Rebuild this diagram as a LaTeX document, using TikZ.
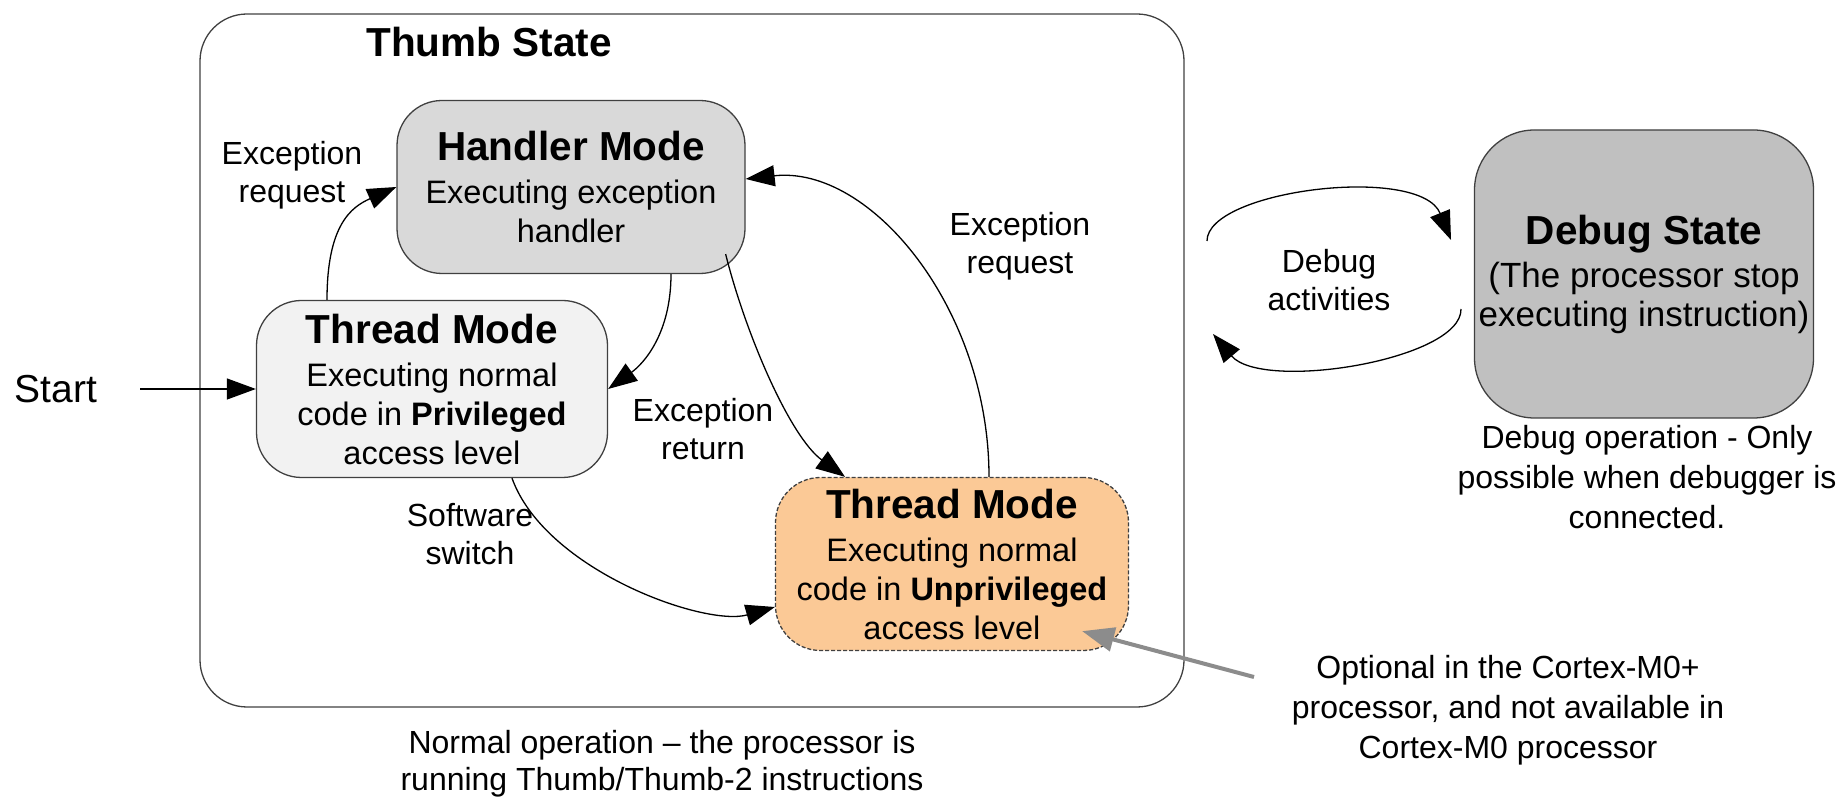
\documentclass[tikz,border=0pt]{standalone}
\usepackage{fontspec}
\setmainfont{Liberation Sans}
\usetikzlibrary{arrows.meta,calc}
\definecolor{linec}{HTML}{404040}
\definecolor{handlerfill}{HTML}{D9D9D9}
\definecolor{privfill}{HTML}{F2F2F2}
\definecolor{unprivfill}{HTML}{FBC996}
\definecolor{debugfill}{HTML}{C0C0C0}
\definecolor{optgray}{HTML}{8C8C8C}
\newcommand\hdfont{\fontsize{40.5}{45}\selectfont\bfseries}
\newcommand\bdfont{\fontsize{32.5}{39}\selectfont}
\newcommand\lbfont{\fontsize{32}{38}\selectfont}
\tikzset{
  modebox/.style={draw=linec, line width=1.3pt, rounded corners=45pt, align=center, font=\bdfont, inner sep=0pt},
  lbl/.style={align=center, font=\lbfont, inner sep=0pt},
  conn/.style={line width=1.3pt, -{Triangle[length=29pt,width=21pt]}},
}
\begin{document}
\begin{tikzpicture}[x=1pt,y=1pt]
\useasboundingbox (0,0) rectangle (1847,800);
% Thumb state container
\node[draw=linec, line width=1.3pt, rounded corners=47pt, minimum width=984pt, minimum height=693pt, inner sep=0pt] (thumb) at (692,439.5) {};
\node[font=\hdfont, inner sep=0pt] (thumbtitle) at (489,758) {Thumb State};
% modes
\node[modebox, fill=handlerfill, minimum width=348pt, minimum height=173pt] (handler) at (571,613)
  {{\hdfont Handler Mode}\\[4pt] Executing exception\\ handler};
\node[modebox, fill=privfill, minimum width=351pt, minimum height=177pt] (priv) at (432,411)
  {{\hdfont Thread Mode}\\[4pt] Executing normal\\ code in \textbf{Privileged}\\ access level};
\node[modebox, fill=unprivfill, dash pattern=on 4pt off 2pt, minimum width=353pt, minimum height=173pt] (unpriv) at (952,236)
  {{\hdfont Thread Mode}\\[4pt] Executing normal\\ code in \textbf{Unprivileged}\\ access level};
\node[modebox, fill=debugfill, rounded corners=60pt, minimum width=339pt, minimum height=288pt, font=\fontsize{35}{39}\selectfont] (debug) at (1644,526)
  {{\hdfont Debug State}\\[4pt] (The processor stop\\ executing instruction)};
% texts
\node[font=\fontsize{39}{44}\selectfont, inner sep=0pt] (start) at (56,411) {Start};
\node[lbl] (lreq1) at (292,625) {Exception\\ request};
\node[lbl] (lreq2) at (1020,554) {Exception\\ request};
\node[lbl] (lret) at (703,371) {Exception\\ return};
\node[lbl] (lsw) at (470,266) {Software\\ switch};
\node[lbl] (ldbg) at (1329,520) {Debug\\ activities};
\node[lbl, font=\fontsize{32}{40}\selectfont] (ldbgop) at (1647,323) {Debug operation - Only\\ possible when debugger is\\ connected.};
\node[lbl, font=\fontsize{32}{40}\selectfont] (lopt) at (1508,90) {Optional in the Cortex-M0+\\ processor, and not available in\\ Cortex-M0 processor};
\node[lbl, font=\fontsize{32}{37}\selectfont] (lnorm) at (662,36) {Normal operation -- the processor is\\ running Thumb/Thumb-2 instructions};
% connectors
\draw[conn] ([xshift=43pt]start.east) -- (priv.west);
\draw[conn] ([xshift=-105pt]priv.north) .. controls +(0,75) and +(-45,-20) .. (handler.west);
\draw[conn] ([xshift=100pt]handler.south) .. controls +(0,-60) and +(35,25) .. (priv.east);
\draw[conn] ([xshift=-20pt,yshift=20pt]handler.south east) .. controls +(20,-80) and +(-55,40) .. ([xshift=-107pt]unpriv.north);
\draw[conn] ([xshift=37pt]unpriv.north) .. controls +(0,168) and +(125,14) .. ([yshift=8pt]handler.east);
\draw[conn] ([xshift=80pt]priv.south) .. controls +(33,-92) and +(-70,-20) .. ([yshift=-43pt]unpriv.west);
% debug loop
\coordinate (d1) at (1207,559);
\coordinate (d2) at (1451,560);
\coordinate (d3) at (1461,491);
\coordinate (d4) at (1213,466);
\draw[conn] (d1) .. controls (1207,610) and (1420,636) .. (d2);
\draw[conn] (d3) .. controls (1462,440) and (1262,408) .. (d4);
% optional pointer
\coordinate (optend) at (1254,123);
\draw[line width=4pt, optgray, -{Triangle[length=32pt,width=24pt]}] (optend) -- ([xshift=-47pt,yshift=20pt]unpriv.south east);
\end{tikzpicture}
\end{document}
